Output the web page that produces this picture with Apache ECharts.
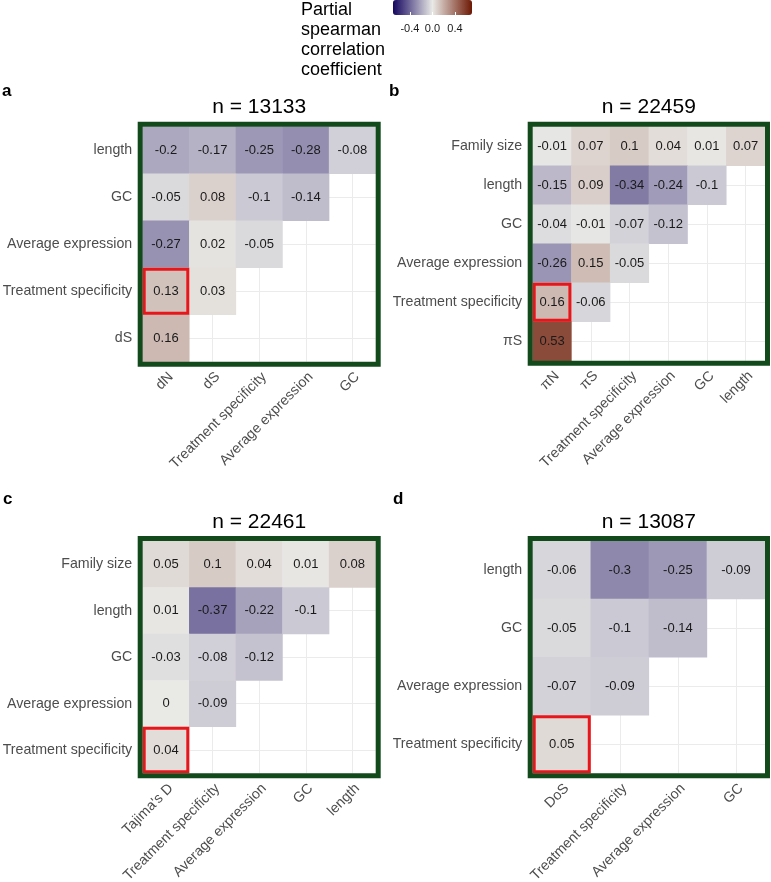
<!DOCTYPE html>
<html>
<head>
<meta charset="utf-8">
<script src="https://cdn.jsdelivr.net/npm/echarts@6/dist/echarts.min.js"></script>
<style>
html, body { margin: 0; background: #fff; }
#chart { width: 771px; height: 882px; }
</style>
</head>
<body>
<div id="chart"></div>
<script>
var font = "'Liberation Sans', Arial, sans-serif";

// panel a
var aCols = ['dN', 'dS', 'Treatment specificity', 'Average expression', 'GC'];
var aRows = ['length', 'GC', 'Average expression', 'Treatment specificity', 'dS'];
var aVals = [
    [-0.2, -0.17, -0.25, -0.28, -0.08],
    [-0.05, 0.08, -0.1, -0.14],
    [-0.27, 0.02, -0.05],
    [0.13, 0.03],
    [0.16]
];

// panel b
var bCols = ['πN', 'πS', 'Treatment specificity', 'Average expression', 'GC', 'length'];
var bRows = ['Family size', 'length', 'GC', 'Average expression', 'Treatment specificity', 'πS'];
var bVals = [
    [-0.01, 0.07, 0.1, 0.04, 0.01, 0.07],
    [-0.15, 0.09, -0.34, -0.24, -0.1],
    [-0.04, -0.01, -0.07, -0.12],
    [-0.26, 0.15, -0.05],
    [0.16, -0.06],
    [0.53]
];

// panel c
var cCols = ["Tajima's D", 'Treatment specificity', 'Average expression', 'GC', 'length'];
var cRows = ['Family size', 'length', 'GC', 'Average expression', 'Treatment specificity'];
var cVals = [
    [0.05, 0.1, 0.04, 0.01, 0.08],
    [0.01, -0.37, -0.22, -0.1],
    [-0.03, -0.08, -0.12],
    [0, -0.09],
    [0.04]
];

// panel d
var dCols = ['DoS', 'Treatment specificity', 'Average expression', 'GC'];
var dRows = ['length', 'GC', 'Average expression', 'Treatment specificity'];
var dVals = [
    [-0.06, -0.3, -0.25, -0.09],
    [-0.05, -0.1, -0.14],
    [-0.07, -0.09],
    [0.05]
];

var legendTicks = [-0.4, 0, 0.4];
var highlightRow = 'Treatment specificity';

// inner (tile) rectangle of each panel
var panels = [
    {tag: 'a', title: 'n = 13133', cols: aCols, rows: aRows, vals: aVals, left: 142.7, top: 126.7, width: 233, height: 235, tagX: 2, tagY: 83},
    {tag: 'b', title: 'n = 22459', cols: bCols, rows: bRows, vals: bVals, left: 532.7, top: 126.7, width: 232.3, height: 234, tagX: 389, tagY: 83},
    {tag: 'c', title: 'n = 22461', cols: cCols, rows: cRows, vals: cVals, left: 142.7, top: 541, width: 233, height: 232.3, tagX: 3, tagY: 491},
    {tag: 'd', title: 'n = 13087', cols: dCols, rows: dRows, vals: dVals, left: 532.7, top: 541, width: 232.3, height: 232.3, tagX: 393, tagY: 491}
];

var chart = echarts.init(document.getElementById('chart'));

var grids = [], xAxes = [], yAxes = [], series = [], titles = [], heatIdx = [];
var hidden = {axisLine: {show: false}, axisTick: {show: false}, axisLabel: {show: false}};
var gridLine = {show: true, lineStyle: {color: '#ebebeb', width: 1}};
var frameW = 5;

function addGrid(g) {
    g.outerBoundsMode = 'none';
    g.containLabel = false;
    grids.push(g);
    return grids.length - 1;
}

titles.push({
    text: 'Partial\nspearman\ncorrelation\ncoefficient',
    left: 301, top: 0, padding: 0,
    textStyle: {fontSize: 18, lineHeight: 20, fontWeight: 'normal', color: '#000', fontFamily: font}
});

panels.forEach(function (p) {
    var nc = p.cols.length, nr = p.rows.length;
    var w = p.width / nc, h = p.height / nr;

    // light grid lines through the cell centres
    var gv = addGrid({left: p.left + w / 2, top: p.top, width: p.width - w, height: p.height});
    xAxes.push(Object.assign({gridIndex: gv, type: 'value', min: 0, max: nc - 1, interval: 1, splitLine: gridLine}, hidden));
    yAxes.push({gridIndex: gv, type: 'value', min: 0, max: 1, show: false});
    var gh = addGrid({left: p.left, top: p.top + h / 2, width: p.width, height: p.height - h});
    xAxes.push({gridIndex: gh, type: 'value', min: 0, max: 1, show: false});
    yAxes.push(Object.assign({gridIndex: gh, type: 'value', min: 0, max: nr - 1, interval: 1, splitLine: gridLine}, hidden));

    // green panel frame
    var gf = addGrid({
        left: p.left - frameW / 2, top: p.top - frameW / 2,
        width: p.width + frameW, height: p.height + frameW,
        show: true, z: 10, backgroundColor: 'transparent',
        borderColor: '#124a1c', borderWidth: frameW
    });
    xAxes.push({gridIndex: gf, type: 'value', show: false});
    yAxes.push({gridIndex: gf, type: 'value', show: false});

    // tiles
    var g = addGrid({left: p.left, top: p.top, width: p.width, height: p.height});
    var xi = xAxes.length;
    xAxes.push({
        gridIndex: g, type: 'category', data: p.cols,
        axisLine: {show: false}, axisTick: {show: false}, splitLine: {show: false},
        axisLabel: {rotate: 45, interval: 0, margin: 8, verticalAlign: 'top',
            fontSize: 14.2, color: '#4d4d4d', fontFamily: font}
    });
    var yi = yAxes.length;
    yAxes.push({
        gridIndex: g, type: 'category', data: p.rows, inverse: true,
        axisLine: {show: false}, axisTick: {show: false}, splitLine: {show: false},
        axisLabel: {interval: 0, margin: 10.5, fontSize: 14.2, color: '#4d4d4d', fontFamily: font}
    });

    var data = [];
    p.vals.forEach(function (row, r) {
        row.forEach(function (v, c) {
            data.push([c, r, v]);
        });
    });
    heatIdx.push(series.length);
    series.push({
        type: 'heatmap', xAxisIndex: xi, yAxisIndex: yi, data: data,
        emphasis: {disabled: true},
        label: {
            show: true, fontSize: 13, color: '#1a1a1a', fontFamily: font,
            formatter: function (d) { return String(d.value[2]); }
        }
    });

    series.push({
        type: 'custom', xAxisIndex: xi, yAxisIndex: yi, z: 5, silent: true,
        data: [[0, p.rows.indexOf(highlightRow)]],
        renderItem: function (params, api) {
            var pt = api.coord([api.value(0), api.value(1)]);
            var sz = api.size([1, 1]);
            return {
                type: 'rect',
                shape: {x: pt[0] - sz[0] / 2 + 1.5, y: pt[1] - sz[1] / 2 + 1.5, width: sz[0] - 3, height: sz[1] - 3},
                style: {fill: 'none', stroke: '#e8161b', lineWidth: 3}
            };
        }
    });

    titles.push({
        text: p.title, left: p.left + p.width / 2, top: p.top - 29.7, textAlign: 'center', padding: 0,
        textStyle: {fontSize: 21, fontWeight: 'normal', color: '#000', fontFamily: font}
    });
    titles.push({
        text: p.tag, left: p.tagX, top: p.tagY, padding: 0,
        textStyle: {fontSize: 17, fontWeight: 'bold', color: '#000', fontFamily: font}
    });
});

// colour bar tick labels
var lg = addGrid({left: 409.9, top: 0, width: 45.1, height: 15});
xAxes.push({
    gridIndex: lg, type: 'value', z: 10,
    min: legendTicks[0], max: legendTicks[legendTicks.length - 1], interval: legendTicks[1] - legendTicks[0],
    axisLine: {show: false}, splitLine: {show: false},
    axisTick: {show: true, inside: true, length: 3, lineStyle: {color: '#fff'}},
    axisLabel: {fontSize: 11, color: '#1a1a1a', margin: 8, fontFamily: font,
        formatter: function (v) { return v.toFixed(1); }}
});
yAxes.push({gridIndex: lg, type: 'value', show: false});

var option = {
    animation: false,
    title: titles,
    grid: grids,
    xAxis: xAxes,
    yAxis: yAxes,
    visualMap: {
        type: 'continuous', min: -0.7, max: 0.7, orient: 'horizontal',
        left: 393, top: 0, padding: 0, itemWidth: 15, itemHeight: 79,
        calculable: false, hoverLink: false, text: null,
        seriesIndex: heatIdx, dimension: 2,
        inRange: {color: ['#15065f', '#e9e9e6', '#6d1803']}
    },
    series: series
};

chart.setOption(option);
</script>
</body>
</html>
